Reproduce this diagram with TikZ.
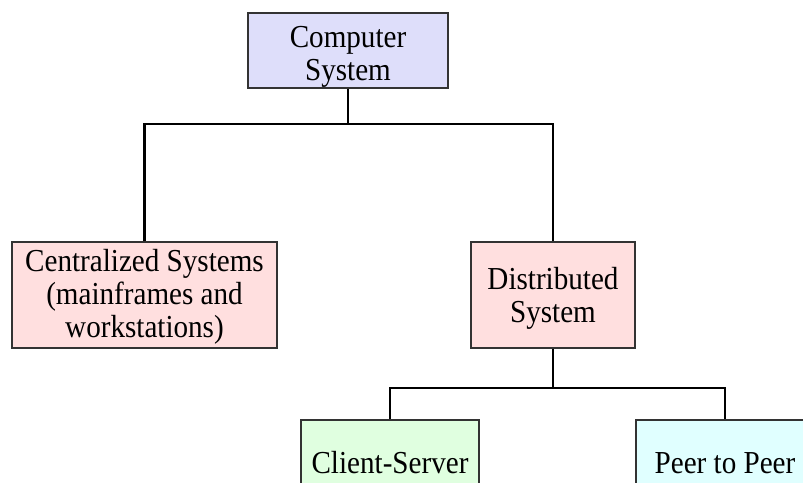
\documentclass[tikz,border=0pt]{standalone}
\usepackage{fontspec}
\setmainfont{Liberation Serif}[FakeStretch=0.91]
\usetikzlibrary{positioning}

\definecolor{topfill}{HTML}{DEDEFA}
\definecolor{midfill}{HTML}{FFDFDF}
\definecolor{csfill}{HTML}{E0FFE0}
\definecolor{ppfill}{HTML}{E0FFFF}
\definecolor{boxline}{HTML}{333333}

\begin{document}
\begin{tikzpicture}[x=1pt,y=-1pt,line width=2.1pt]
  \tikzstyle{every node}=[font=\fontsize{32}{33}\selectfont,align=center,inner sep=0pt]
  \tikzstyle{block}=[draw=boxline,line width=1.3pt,rectangle]

  \clip (0,0) rectangle (803,482);

  \node[block,fill=topfill,minimum width=200pt,minimum height=75pt,text height=62pt,text depth=3pt]   (comp)   at (348,50.5)  {Computer\\System};
  \node[block,fill=midfill,minimum width=265pt,minimum height=106pt,text height=88pt,text depth=4pt]  (cent)   at (144.5,295) {Centralized Systems\\(mainframes and\\workstations)};
  \node[block,fill=midfill,minimum width=164pt,minimum height=106pt,text height=56pt,text depth=2pt]  (dist)   at (553,295)   {Distributed\\System};
  \node[block,fill=csfill,minimum width=178pt,minimum height=86pt]    (client) at (390,463)   {Client-Server};
  \node[block,fill=ppfill,minimum width=178pt,minimum height=86pt]    (peer)   at (725,463)   {Peer to Peer};

  \coordinate (topbus) at (348,124);
  \coordinate (lowbus) at (553,388);

  \draw (comp.south) -- (topbus);
  \draw (cent.north) |- (topbus) -| (dist.north);
  \draw (dist.south) -- (lowbus);
  \draw (client.north) |- (lowbus) -| (peer.north);

\end{tikzpicture}
\end{document}
